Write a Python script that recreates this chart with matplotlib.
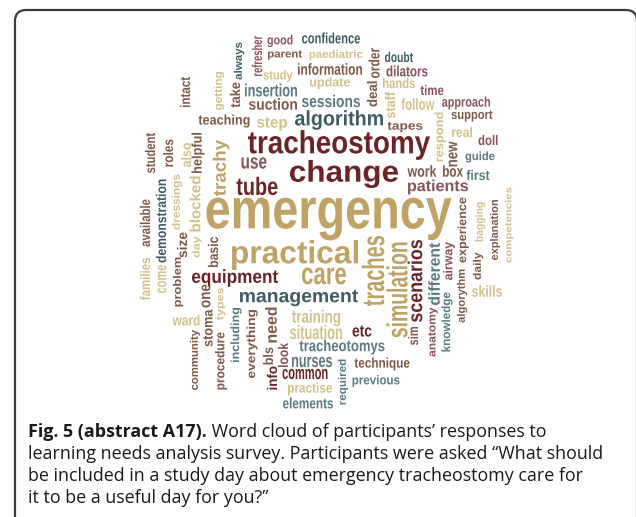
import numpy as np
import matplotlib
matplotlib.use('Agg')
import matplotlib.pyplot as plt
from matplotlib.textpath import TextPath
from matplotlib.font_manager import FontProperties
from matplotlib.patches import PathPatch, FancyBboxPatch
from matplotlib.transforms import Affine2D

## Word cloud data: words and their weights (em size, px)
words = ['emergency', 'change', 'tracheostomy', 'practical', 'care', 'algorithm',
         'management', 'tube', 'equipment', 'traches', 'simulation', 'scenarios',
         'trachy', 'training', 'situation', 'tracheotomys', 'etc',
         'good', 'confidence', 'parent', 'paediatric', 'doubt', 'information',
         'dilators', 'study', 'update', 'hands', 'insertion', 'time', 'suction',
         'sessions', 'follow', 'approach', 'teaching', 'step', 'support', 'tapes',
         'real', 'doll', 'guide', 'use', 'work', 'box', 'first', 'patients',
         'nurses', 'common', 'practise', 'elements', 'technique', 'previous',
         'ward', 'skills',
         'refresher', 'always', 'order', 'getting', 'take', 'deal', 'staff',
         'intact', 'respond', 'student', 'roles', 'also', 'helpful', 'new',
         'experience', 'bagging', 'explanation', 'competencies', 'available',
         'demonstration', 'dressings', 'blocked', 'size', 'day', 'basic',
         'different', 'airway', 'daily', 'algorythm', 'knowledge', 'anatomy',
         'sim', 'families', 'come', 'problem', 'one', 'types', 'community',
         'stoma', 'procedure', 'including', 'everything', 'need', 'bls', 'info',
         'look', 'required']
weights = [57, 30, 32, 32, 31, 21,
           19, 25, 19, 31, 29, 20,
           18, 18, 20, 16, 17,
           13, 15, 11, 11, 14, 16,
           15, 13, 13, 14, 18, 14, 16,
           17, 16, 14, 14, 16, 13, 12,
           14, 14, 12, 21, 16, 16, 14, 16,
           19, 19, 14, 15, 14, 13,
           15, 16,
           14, 11, 15, 11, 14, 14, 14,
           14, 12, 14, 14, 14, 14, 16,
           12, 11, 11, 9, 14,
           14, 11, 15, 14, 10, 14,
           16, 13, 11, 11, 12, 11,
           14, 14, 16, 11, 16, 10, 11,
           14, 13, 12, 12, 16, 14, 14,
           14, 11]

## Layout (pixel coords in the 636x517 picture): ink-box centre, length, rotation
layout = {
    'emergency': (329, 219, 245, 0), 'change': (344, 174, 108, 0),
    'tracheostomy': (339, 145, 182, 0), 'practical': (295, 255, 126, 0),
    'care': (324, 276, 44, 0), 'algorithm': (339, 120, 88, 0),
    'management': (299, 298, 118, 0), 'tube': (257, 186, 41, 0),
    'equipment': (235, 278, 86, 0), 'traches': (373, 271, 70, 90),
    'simulation': (397, 290, 95, 90), 'scenarios': (415, 281, 82, 90),
    'trachy': (221, 168, 56, 90), 'training': (316, 318, 48, 0),
    'situation': (316, 332, 52, 0), 'tracheotomys': (342, 347, 85, 0),
    'etc': (362, 331, 19, 0),
    'good': (280, 41, 25, 0), 'confidence': (331, 38, 58, 0),
    'parent': (285, 55, 34, 0), 'paediatric': (336, 55, 53, 0),
    'doubt': (399, 57, 28, 0), 'information': (330, 69, 64, 0),
    'dilators': (407, 71, 41, 0), 'study': (278, 76, 29, 0),
    'update': (330, 83, 40, 0), 'hands': (399, 83, 32, 0),
    'insertion': (271, 90, 52, 0), 'time': (432, 90, 23, 0),
    'suction': (273, 104, 48, 0), 'sessions': (331, 101, 58, 0),
    'follow': (418, 104, 33, 0), 'approach': (466, 103, 48, 0),
    'teaching': (224, 121, 51, 0), 'step': (272, 124, 30, 0),
    'support': (472, 116, 41, 0), 'tapes': (405, 127, 35, 0),
    'real': (462, 132, 20, 0), 'doll': (488, 140, 19, 0),
    'guide': (480, 157, 29, 0), 'use': (254, 163, 25, 0),
    'work': (422, 171, 29, 0), 'box': (453, 171, 20, 0),
    'first': (478, 175, 23, 0), 'patients': (438, 187, 60, 0),
    'nurses': (312, 362, 40, 0), 'common': (305, 374, 45, 0),
    'practise': (310, 389, 44, 0), 'elements': (308, 403, 50, 0),
    'technique': (382, 364, 55, 0), 'previous': (376, 381, 47, 0),
    'ward': (186, 320, 27, 0), 'skills': (487, 291, 30, 0),
    'refresher': (257, 56, 40, 90), 'always': (239, 61, 37, 90),
    'order': (374, 63, 30, 90), 'getting': (219, 91, 38, 90),
    'take': (235, 95, 25, 90), 'deal': (372, 94, 25, 90),
    'staff': (390, 105, 26, 90), 'intact': (185, 92, 30, 90),
    'respond': (440, 137, 49, 90), 'student': (150, 153, 40, 90),
    'roles': (168, 153, 27, 90), 'also': (186, 155, 24, 90),
    'helpful': (198, 153, 40, 90), 'new': (453, 154, 25, 90),
    'experience': (463, 230, 65, 90), 'bagging': (480, 222, 39, 90),
    'explanation': (495, 230, 60, 90), 'competencies': (509, 225, 75, 90),
    'available': (145, 223, 47, 90), 'demonstration': (161, 221, 83, 90),
    'dressings': (177, 202, 55, 90), 'blocked': (195, 204, 55, 90),
    'size': (182, 245, 25, 90), 'day': (197, 247, 21, 90),
    'basic': (213, 252, 30, 90), 'different': (434, 274, 62, 90),
    'airway': (449, 261, 38, 90), 'daily': (478, 266, 27, 90),
    'algorythm': (462, 296, 53, 90), 'knowledge': (447, 322, 59, 90),
    'anatomy': (433, 332, 49, 90), 'sim': (413, 336, 18, 90),
    'families': (145, 279, 42, 90), 'come': (162, 279, 28, 90),
    'problem': (178, 282, 49, 90), 'one': (206, 296, 23, 90),
    'types': (221, 304, 32, 90), 'community': (195, 360, 60, 90),
    'stoma': (208, 328, 37, 90), 'procedure': (221, 361, 57, 90),
    'including': (236, 335, 54, 90), 'everything': (252, 344, 68, 90),
    'need': (271, 325, 35, 90), 'bls': (268, 356, 17, 90),
    'info': (272, 378, 23, 90), 'look': (283, 355, 24, 90),
    'required': (343, 382, 45, 90),
}

## Colours
MAROON, TAN, SLATE, KHAKI = '#6b2426', '#bfa265', '#3e5d63', '#d2c18a'
MAUVE, BROWN, GREYBLUE = '#8a525a', '#7e5a48', '#5b7b81'
colours = {
    'emergency': TAN, 'change': MAROON, 'tracheostomy': MAROON, 'practical': TAN,
    'care': TAN, 'algorithm': SLATE, 'management': SLATE, 'tube': MAROON,
    'equipment': MAROON, 'traches': TAN, 'simulation': TAN, 'scenarios': MAROON,
    'trachy': TAN, 'training': KHAKI, 'situation': KHAKI, 'tracheotomys': GREYBLUE,
    'etc': MAROON, 'good': MAUVE, 'confidence': SLATE, 'parent': BROWN,
    'paediatric': KHAKI, 'doubt': SLATE, 'information': BROWN, 'dilators': MAUVE,
    'study': KHAKI, 'update': KHAKI, 'hands': KHAKI, 'insertion': GREYBLUE,
    'time': MAUVE, 'suction': BROWN, 'sessions': GREYBLUE, 'follow': KHAKI,
    'approach': MAUVE, 'teaching': BROWN, 'step': KHAKI, 'support': BROWN,
    'tapes': BROWN, 'real': KHAKI, 'doll': MAUVE, 'guide': GREYBLUE,
    'use': MAUVE, 'work': BROWN, 'box': BROWN, 'first': GREYBLUE,
    'patients': MAUVE, 'nurses': GREYBLUE, 'common': MAROON, 'practise': KHAKI,
    'elements': GREYBLUE, 'technique': BROWN, 'previous': GREYBLUE, 'ward': KHAKI,
    'skills': KHAKI, 'refresher': MAUVE, 'always': SLATE, 'order': BROWN,
    'getting': KHAKI, 'take': BROWN, 'deal': BROWN, 'staff': KHAKI,
    'intact': BROWN, 'respond': KHAKI, 'student': BROWN, 'roles': BROWN,
    'also': KHAKI, 'helpful': BROWN, 'new': BROWN, 'experience': BROWN,
    'bagging': KHAKI, 'explanation': BROWN, 'competencies': KHAKI,
    'available': BROWN, 'demonstration': SLATE, 'dressings': KHAKI,
    'blocked': KHAKI, 'size': BROWN, 'day': KHAKI, 'basic': BROWN,
    'different': GREYBLUE, 'airway': MAUVE, 'daily': BROWN, 'algorythm': BROWN,
    'knowledge': GREYBLUE, 'anatomy': MAUVE, 'sim': BROWN, 'families': KHAKI,
    'come': KHAKI, 'problem': BROWN, 'one': BROWN, 'types': KHAKI,
    'community': BROWN, 'stoma': BROWN, 'procedure': BROWN, 'including': GREYBLUE,
    'everything': BROWN, 'need': BROWN, 'bls': BROWN, 'info': MAROON,
    'look': MAUVE, 'required': GREYBLUE,
}

caption_bold = 'Fig. 5 (abstract A17).'
caption_lines = [' Word cloud of participants\u2019 responses to',
                 'learning needs analysis survey. Participants were asked \u201cWhat should',
                 'be included in a study day about emergency tracheostomy care for',
                 'it to be a useful day for you?\u201d']

W, H = 636, 517
fig = plt.figure(figsize=(W / 100, H / 100), dpi=100)
ax = fig.add_axes([0, 0, 1, 1])
ax.set_xlim(0, W)
ax.set_ylim(H, 0)
ax.axis('off')

fp = FontProperties(family=['Liberation Sans', 'DejaVu Sans'], weight='bold')

for word, em in zip(words, weights):
    cx, cy, length, rot = layout[word]
    path = TextPath((0, 0), word, size=1, prop=fp)
    ext = path.get_extents()
    t = Affine2D().translate(-(ext.x0 + ext.x1) / 2, -(ext.y0 + ext.y1) / 2)
    t = t.scale(length / ext.width, -em)
    if rot == 90:
        t = t.rotate_deg(-90)
    t = t.translate(cx, cy)
    ax.add_patch(PathPatch(t.transform_path(path), facecolor=colours[word],
                           edgecolor='none'))

## Rounded frame
ax.add_patch(FancyBboxPatch((15, 10), 622, 530, boxstyle='round,pad=0,rounding_size=11',
                            facecolor='none', edgecolor='#3a3a3a', linewidth=1.6,
                            clip_on=False))

## Caption
cfont = 'Open Sans'
csize = 12.9
x0 = 28 / W
baselines = [437, 459, 481, 503]
tb = fig.text(x0, 1 - baselines[0] / H, caption_bold, fontsize=csize, family=cfont,
              weight='bold', va='baseline', color='#1a1a1a')
fig.canvas.draw()
bb = tb.get_window_extent()
fig.text(bb.x1 / W, 1 - baselines[0] / H, caption_lines[0], fontsize=csize,
         family=cfont, va='baseline', color='#1a1a1a')
for line, yb in zip(caption_lines[1:], baselines[1:]):
    fig.text(x0, 1 - yb / H, line, fontsize=csize, family=cfont, va='baseline',
             color='#1a1a1a')

fig.savefig('out.png', dpi=100)
